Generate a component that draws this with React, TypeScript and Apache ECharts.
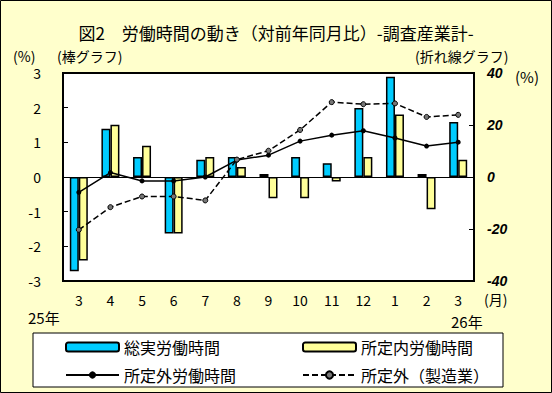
import React, { useEffect, useRef } from "react";
import * as echarts from "echarts";

const months = ["3", "4", "5", "6", "7", "8", "9", "10", "11", "12", "1", "2", "3"];
const totalHours = [-2.72, 1.39, 0.58, -1.63, 0.5, 0.58, 0.09, 0.58, 0.4, 1.99, 2.89, 0.09, 1.59];
const scheduledHours = [-2.41, 1.51, 0.9, -1.63, 0.58, 0.29, -0.61, -0.61, -0.13, 0.58, 1.8, -0.93, 0.5];
const overtimeHours = [-5.9, 1.7, -1.5, -1.5, 0.0, 6.5, 8.4, 13.8, 16.1, 17.8, 15.0, 11.9, 13.4];
const overtimeMfg = [-20.3, -11.6, -7.5, -7.5, -9.0, 6.7, 10.1, 18.1, 28.8, 28.0, 28.3, 23.1, 23.9];
const leftTicks = { min: -3, max: 3, interval: 1 };
const rightTicks = { min: -40, max: 40, interval: 20 };

const FONT = "'Noto Sans CJK JP', 'Noto Sans', sans-serif";

export default function App() {
  const ref = useRef<HTMLDivElement>(null);
  useEffect(() => {
    if (!ref.current) return;
    const chart = echarts.init(ref.current, undefined, { renderer: "svg" });
    const barStyle = (color: string) => ({ color, borderColor: "#000", borderWidth: 1.5 });
    chart.setOption({
      animation: false,
      backgroundColor: "#FFFFCC",
      textStyle: { fontFamily: FONT, color: "#000" },
      title: {
        text: "図2　労働時間の動き（対前年同月比）-調査産業計-",
        left: "center",
        top: 19,
        textStyle: { fontSize: 17, fontWeight: "normal", color: "#000", fontFamily: FONT },
      },
      grid: {
        left: 63,
        top: 73,
        right: 78,
        bottom: 112,
        show: true,
        backgroundColor: "#fff",
        borderColor: "#000",
        borderWidth: 2,
      },
      xAxis: {
        type: "category",
        data: months,
        axisLine: { show: false },
        axisTick: { show: false },
        axisLabel: { fontSize: 14, color: "#000", margin: 12, fontFamily: FONT },
      },
      yAxis: [
        {
          type: "value",
          ...leftTicks,
          axisLine: { show: false },
          axisTick: { show: true, inside: true, length: 5, lineStyle: { color: "#000", width: 1 } },
          splitLine: { show: false },
          axisLabel: { fontSize: 14, color: "#000", margin: 22, fontFamily: FONT },
        },
        {
          type: "value",
          ...rightTicks,
          axisLine: { show: false },
          axisTick: { show: true, inside: true, length: 5, lineStyle: { color: "#000", width: 1 } },
          splitLine: { show: false },
          axisLabel: {
            fontSize: 14,
            color: "#000",
            margin: 13,
            fontStyle: "italic",
            fontWeight: "bold",
            fontFamily: "'Liberation Sans', sans-serif",
          },
        },
      ],
      legend: [
        {
          data: ["総実労働時間", "所定内労働時間"],
          left: 65,
          top: 339,
          itemWidth: 53,
          itemHeight: 9,
          itemGap: 82,
          padding: 0,
          textStyle: { fontSize: 16, color: "#000", fontFamily: FONT },
        },
        {
          data: ["所定外労働時間", "所定外（製造業）"],
          left: 65,
          top: 367,
          itemWidth: 53,
          itemHeight: 9,
          itemGap: 66,
          padding: 0,
          textStyle: { fontSize: 16, color: "#000", fontFamily: FONT },
        },
      ],
      graphic: [
        {
          type: "rect",
          shape: { x: 0.5, y: 0.5, width: 551, height: 392 },
          style: { fill: "none", stroke: "#000", lineWidth: 1 },
          silent: true,
        },
        {
          type: "rect",
          shape: { x: 33, y: 333, width: 470, height: 54 },
          style: { fill: "#fff", stroke: "#000", lineWidth: 1 },
          silent: true,
          z: -1,
        },
        { type: "text", left: 13, top: 49, style: { text: "(%)", fontSize: 14, fill: "#000", fontFamily: FONT } },
        { type: "text", left: 57, top: 49, style: { text: "(棒グラフ)", fontSize: 14, fill: "#000", fontFamily: FONT } },
        { type: "text", left: 415, top: 49, style: { text: "(折れ線グラフ)", fontSize: 14, fill: "#000", fontFamily: FONT } },
        { type: "text", left: 515, top: 69, style: { text: "(%)", fontSize: 15, fill: "#000", fontFamily: FONT } },
        { type: "text", left: 484, top: 292, style: { text: "(月)", fontSize: 14, fill: "#000", fontFamily: FONT } },
        { type: "text", left: 28, top: 310, style: { text: "25年", fontSize: 15, fill: "#000", fontFamily: FONT } },
        { type: "text", left: 451, top: 314, style: { text: "26年", fontSize: 15, fill: "#000", fontFamily: FONT } },
      ],
      series: [
        {
          name: "総実労働時間",
          type: "bar",
          data: totalHours,
          barWidth: 9,
          barGap: "0%",
          itemStyle: barStyle("#00CCFF"),
          markLine: {
            silent: true,
            symbol: "none",
            label: { show: false },
            lineStyle: { color: "#000", width: 1, type: "solid" },
            data: [{ yAxis: 0 }],
          },
        },
        {
          name: "所定内労働時間",
          type: "bar",
          data: scheduledHours,
          barWidth: 9,
          barGap: "0%",
          itemStyle: barStyle("#FFFF99"),
        },
        {
          name: "所定外労働時間",
          type: "line",
          yAxisIndex: 1,
          data: overtimeHours,
          symbol: "circle",
          symbolSize: 5,
          lineStyle: { color: "#000", width: 1.5, type: "solid" },
          itemStyle: { color: "#000" },
          z: 5,
        },
        {
          name: "所定外（製造業）",
          type: "line",
          yAxisIndex: 1,
          data: overtimeMfg,
          symbol: "circle",
          symbolSize: 5,
          lineStyle: { color: "#000", width: 1.5, type: [6, 3] },
          itemStyle: { color: "#777", borderColor: "#000", borderWidth: 1 },
          z: 5,
        },
      ],
    });
    return () => chart.dispose();
  }, []);
  return (
    <div
      ref={ref}
      style={{ position: "fixed", left: 0, top: 0, width: 552, height: 393 }}
    />
  );
}
